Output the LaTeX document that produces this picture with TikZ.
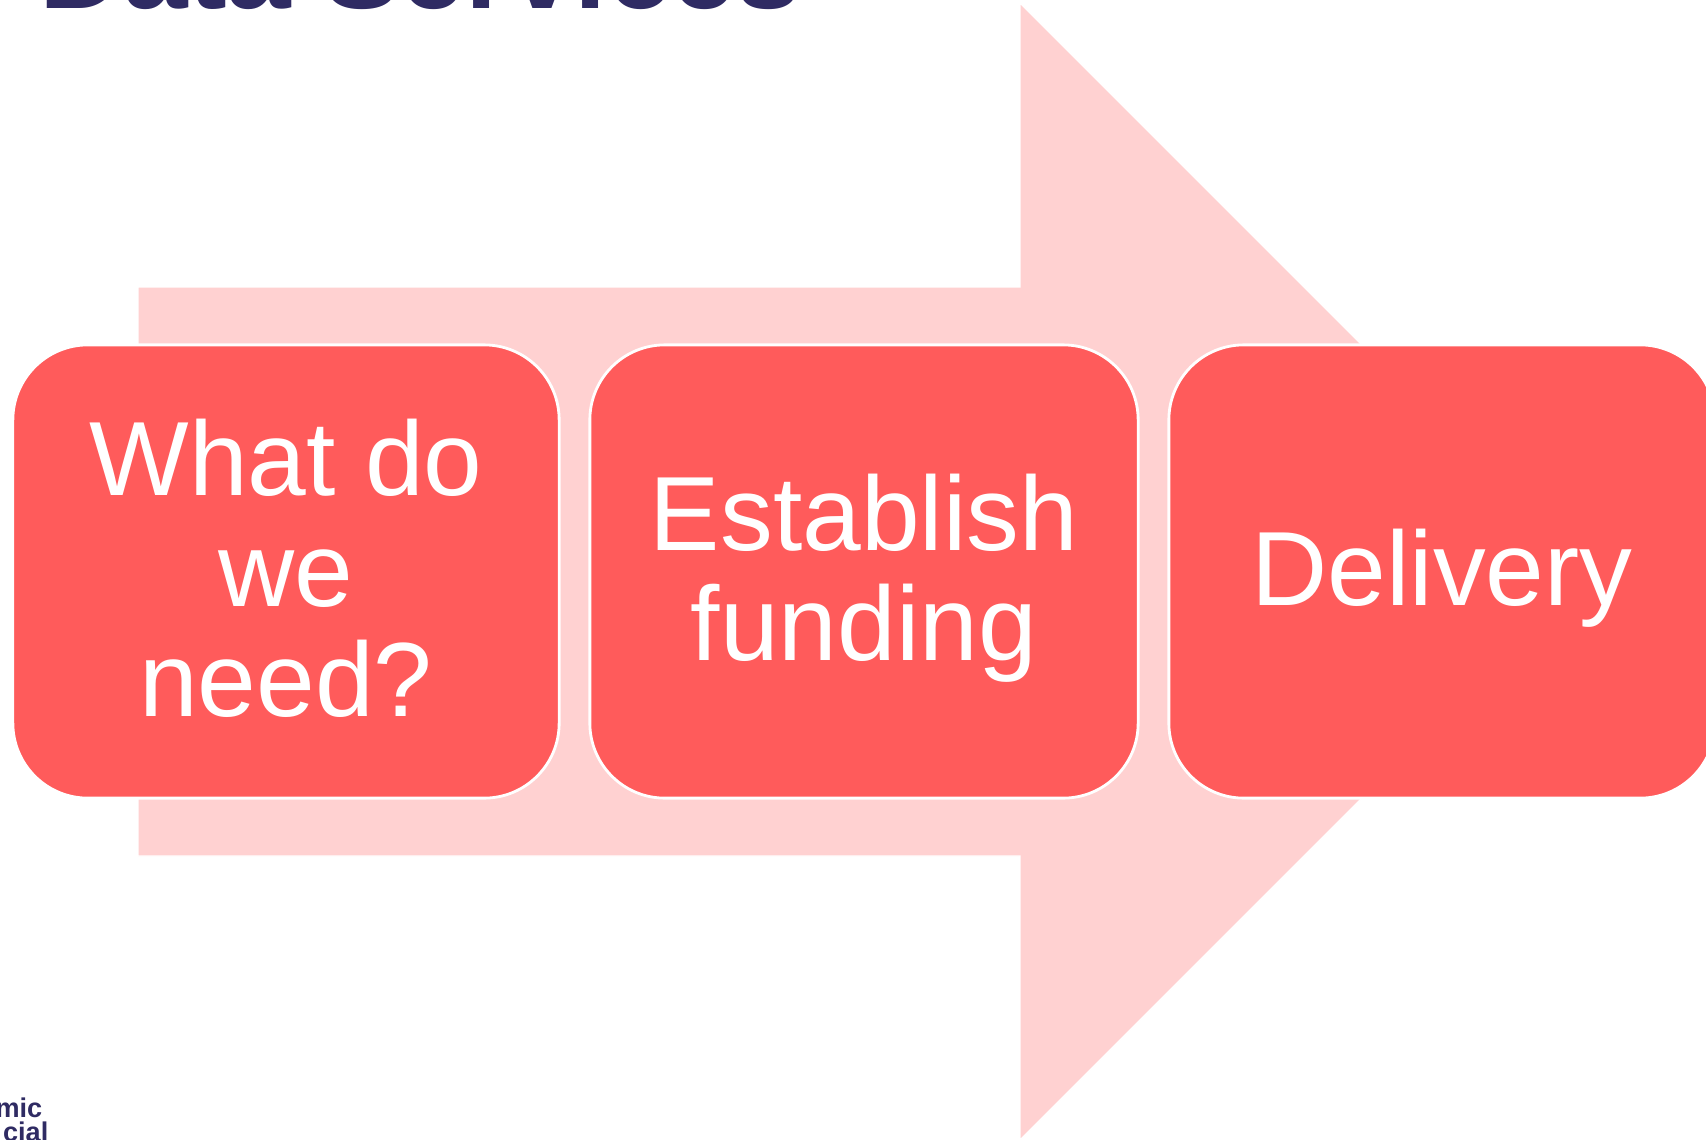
\documentclass[tikz,border=0pt]{standalone}
\usepackage{fontspec}
\setmainfont{Liberation Sans}
\definecolor{boxred}{RGB}{255,91,91}
\definecolor{arrowpink}{RGB}{255,209,209}
\definecolor{navy}{RGB}{47,43,99}
\tikzset{
  stepbox/.style={draw=white, line width=0.8pt, fill=boxred, rounded corners=0.75cm,
    minimum width=5.46cm, minimum height=4.53cm, inner sep=0pt},
  steptext/.style={inner sep=0pt, text=white, align=center,
    font=\fontsize{30pt}{31.3pt}\selectfont},
  logotext/.style={anchor=base east, inner sep=0pt, text=navy, font=\fontsize{7.7pt}{9pt}\selectfont\bfseries}
}
\begin{document}
\begin{tikzpicture}[x=0.01cm,y=-0.01cm]
\useasboundingbox (0,0) rectangle (1706,1139);
\fill[white] (0,0) rectangle (1706,1139);
% big background arrow
\filldraw[fill=arrowpink, draw=white, line width=0.4pt]
  (138,287) -- (1020,287) -- (1020,3) -- (1588.5,571.5) -- (1020,1140) -- (1020,856) -- (138,856) -- cycle;
% title (cut off at top)
\node[anchor=base west, inner sep=0pt, text=navy, font=\fontsize{33pt}{36pt}\selectfont\bfseries] (title) at (39,8) {Data Services};
% steps
\node[stepbox] (s1) at (286,571.5) {};
\node[stepbox, minimum width=5.48cm] (s2) at (864,571.5) {};
\node[stepbox] (s3) at (1442,571.5) {};
\node[steptext, yshift=0.9pt] (t1) at (s1.center) {What do\\we\\need?};
\node[steptext, yshift=-1.85pt] (t2) at (s2.center) {Establish\\funding};
\node[steptext, yshift=-1.85pt] (t3) at (s3.center) {Delivery};
% logo fragments
\node[logotext] (l1) at (43,1117) {mic};
\node[logotext] (l2) at (49,1141) {cial};
\end{tikzpicture}
\end{document}
